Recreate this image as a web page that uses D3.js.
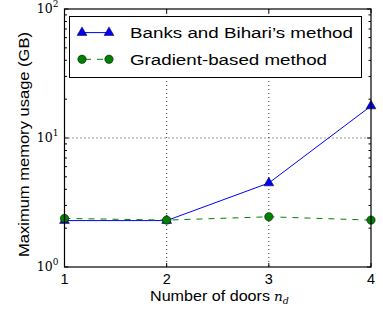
<!DOCTYPE html>
<html><head><meta charset="utf-8">
<script src="https://cdn.jsdelivr.net/npm/d3@7"></script>
<style>body{margin:0;background:#fff}</style>
</head><body>
<svg id="c" width="383" height="314"></svg>
<script>
const doors = [1, 2, 3, 4];
const banksValues = [2.29, 2.29, 4.48, 17.7];
const gradientValues = [2.38, 2.31, 2.45, 2.31];
const xTicks = [1, 2, 3, 4];
const yTicks = [1, 10, 100];
const seriesNames = ["Banks and Bihari\u2019s method", "Gradient-based method"];

const SANS = "Liberation Sans, Arial, sans-serif", SERIF = "DejaVu Serif, serif";
const svg = d3.select("#c");
const L = 64.5, R = 371, T = 9, B = 267;
const x = d3.scaleLinear().domain([1, 4]).range([L, R]);
const y = d3.scaleLog().domain([1, 100]).range([B, T]);

// grid
const g = svg.append("g");
xTicks.slice(1, -1).forEach(v => g.append("line").attr("x1", x(v)).attr("x2", x(v)).attr("y1", T).attr("y2", B)
  .attr("stroke", "#000").attr("stroke-width", 0.8).attr("stroke-dasharray", "1,3"));
yTicks.slice(1, -1).forEach(v => g.append("line").attr("x1", L).attr("x2", R).attr("y1", y(v)).attr("y2", y(v))
  .attr("stroke", "#000").attr("stroke-width", 0.8).attr("stroke-dasharray", "1,3"));

// lines
const line = d3.line().x((d, i) => x(doors[i])).y(d => y(d));
svg.append("path").datum(banksValues).attr("d", line).attr("fill", "none").attr("stroke", "#0000ff").attr("stroke-width", 1);
svg.append("path").datum(gradientValues).attr("d", line).attr("fill", "none").attr("stroke", "#008000").attr("stroke-width", 1).attr("stroke-dasharray", "6,6");

const tri = d3.symbol().type(d3.symbolTriangle).size(42);
svg.selectAll(".tri").data(banksValues).enter().append("path")
  .attr("transform", (d, i) => `translate(${x(doors[i])},${y(d)})`).attr("d", tri)
  .attr("fill", "#0000ff").attr("stroke", "#000").attr("stroke-width", 0.5);
svg.selectAll(".circ").data(gradientValues).enter().append("circle")
  .attr("cx", (d, i) => x(doors[i])).attr("cy", d => y(d)).attr("r", 4.2)
  .attr("fill", "#008000").attr("stroke", "#000").attr("stroke-width", 0.5);

// frame
svg.append("rect").attr("x", L).attr("y", T).attr("width", R - L).attr("height", B - T)
  .attr("fill", "none").attr("stroke", "#000").attr("stroke-width", 1.2);

// ticks inward
xTicks.forEach(v => {
  svg.append("line").attr("x1", x(v)).attr("x2", x(v)).attr("y1", B).attr("y2", B - 4).attr("stroke", "#000");
  svg.append("line").attr("x1", x(v)).attr("x2", x(v)).attr("y1", T).attr("y2", T + 4).attr("stroke", "#000");
  svg.append("text").attr("x", x(v)).attr("y", 284).attr("text-anchor", "middle")
    .attr("font-family", SANS).attr("font-size", 14.5).text(v);
});
const minor = [];
for (let e = 0; e < 2; e++) for (let k = 2; k <= 9; k++) minor.push(k * Math.pow(10, e));
minor.forEach(v => {
  svg.append("line").attr("x1", L).attr("x2", L + 2.5).attr("y1", y(v)).attr("y2", y(v)).attr("stroke", "#000");
  svg.append("line").attr("x1", R).attr("x2", R - 2.5).attr("y1", y(v)).attr("y2", y(v)).attr("stroke", "#000");
});
yTicks.forEach((v, i) => {
  svg.append("line").attr("x1", L).attr("x2", L + 4).attr("y1", y(v)).attr("y2", y(v)).attr("stroke", "#000");
  svg.append("line").attr("x1", R).attr("x2", R - 4).attr("y1", y(v)).attr("y2", y(v)).attr("stroke", "#000");
  const t = svg.append("text").attr("x", L - 6).attr("y", y(v) + 3.5).attr("text-anchor", "end")
    .attr("font-family", SERIF).attr("font-size", 12.5);
  t.append("tspan").text("10");
  t.append("tspan").attr("dy", -6).attr("font-size", 9).text(i);
});

// axis labels
svg.append("text").attr("x", 150).attr("y", 301).attr("font-family", SANS).attr("font-size", 14.5)
  .attr("textLength", 120).attr("lengthAdjust", "spacingAndGlyphs").text("Number of doors");
const nd = svg.append("text").attr("x", 274).attr("y", 301).attr("font-family", SERIF).attr("font-style", "italic").attr("font-size", 13.7);
nd.append("tspan").text("n");
nd.append("tspan").attr("font-size", 9.5).attr("dy", 3).text("d");
svg.append("text").attr("transform", `translate(29,144.5) rotate(-90)`).attr("text-anchor", "middle")
  .attr("font-family", SANS).attr("font-size", 15).attr("textLength", 225).attr("lengthAdjust", "spacingAndGlyphs")
  .text("Maximum memory usage (GB)");

// legend
svg.append("rect").attr("x", 69.5).attr("y", 16.5).attr("width", 292).attr("height", 61)
  .attr("fill", "#fff").attr("stroke", "#000").attr("stroke-width", 1);
const ly = [32.6, 59.3];
const legendWidths = [223, 197];
seriesNames.forEach((name, i) => {
  const yy = ly[i];
  const ln = svg.append("line").attr("x1", 82).attr("x2", 109).attr("y1", yy).attr("y2", yy).attr("stroke-width", 1);
  if (i === 0) {
    ln.attr("stroke", "#0000ff");
    [82, 109].forEach(xx => svg.append("path").attr("transform", `translate(${xx},${yy})`).attr("d", tri)
      .attr("fill", "#0000ff").attr("stroke", "#000").attr("stroke-width", 0.5));
  } else {
    ln.attr("stroke", "#008000").attr("stroke-dasharray", "6,6").attr("stroke-dashoffset", -3);
    [82, 109].forEach(xx => svg.append("circle").attr("cx", xx).attr("cy", yy).attr("r", 4.2)
      .attr("fill", "#008000").attr("stroke", "#000").attr("stroke-width", 0.5));
  }
  svg.append("text").attr("x", 130).attr("y", yy + 5.5).attr("font-family", SANS)
    .attr("font-size", 15.5).attr("textLength", legendWidths[i]).attr("lengthAdjust", "spacingAndGlyphs").text(name);
});
</script>
</body></html>
